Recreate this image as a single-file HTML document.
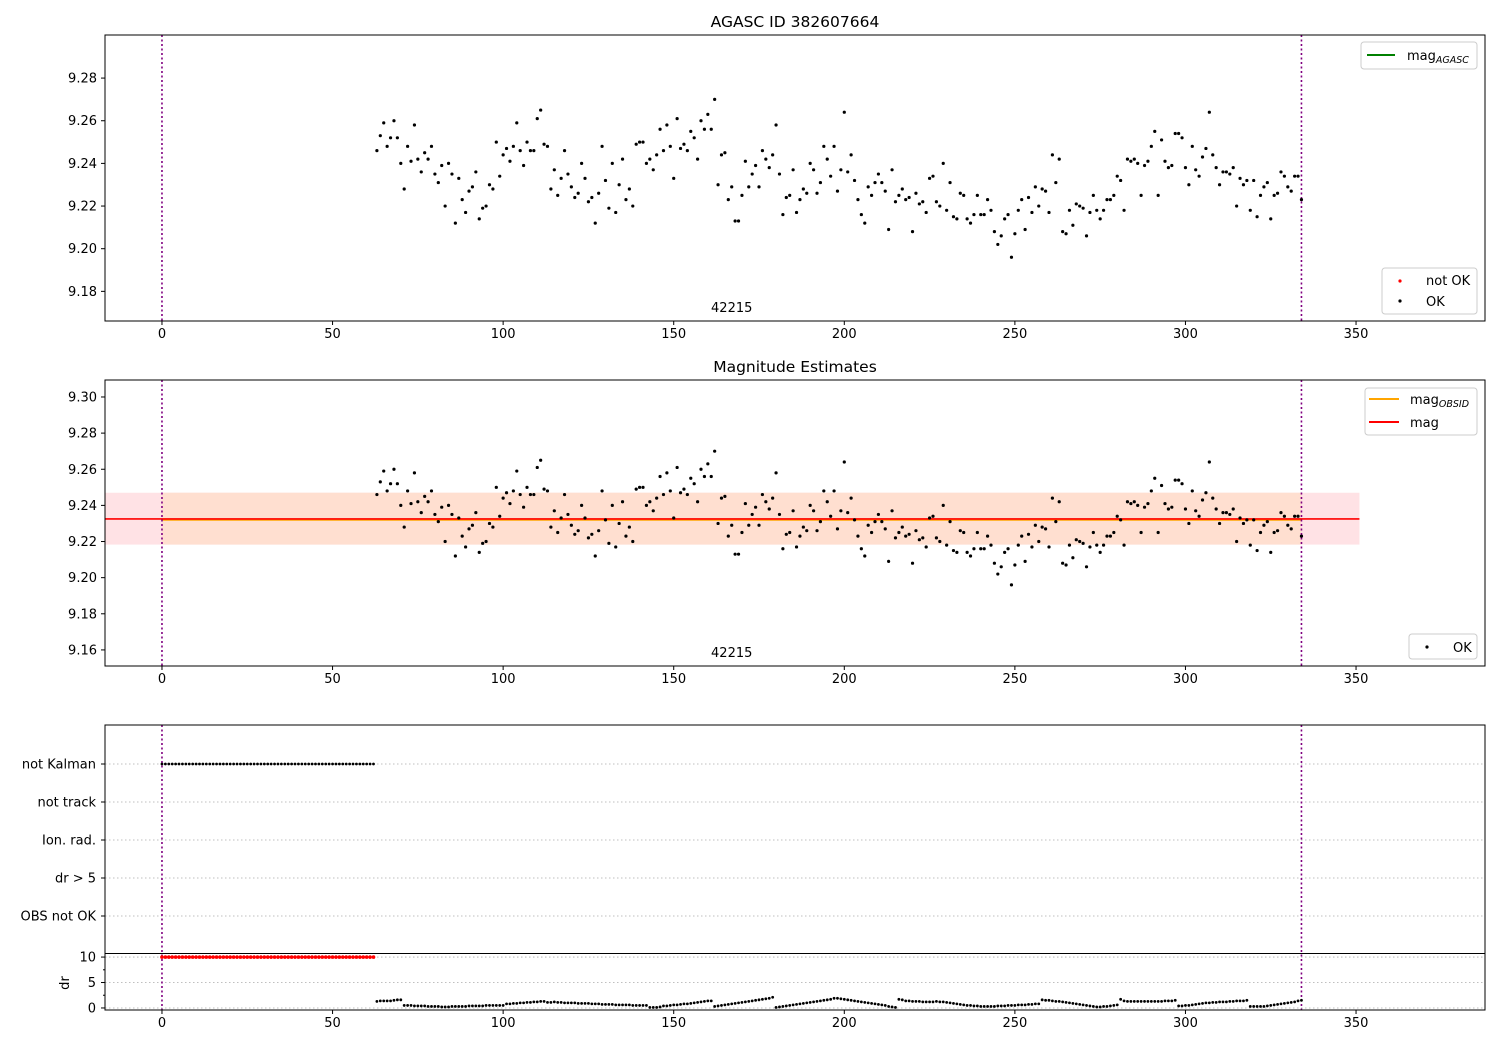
<!DOCTYPE html>
<html><head><meta charset="utf-8">
<style>
html,body{margin:0;padding:0;background:#fff;}
svg{display:block;font-family:"DejaVu Sans","Liberation Sans",sans-serif;}
</style></head>
<body>
<svg id="chart" width="1500" height="1050" viewBox="0 0 1500 1050" xmlns="http://www.w3.org/2000/svg"></svg>
<script>
// ---- data ----
const magStartTime = 63;
const magValues = [
9.246,9.253,9.259,9.248,9.252,9.260,9.252,9.240,9.228,9.248,
9.241,9.258,9.242,9.236,9.245,9.242,9.248,9.235,9.231,9.239,
9.220,9.240,9.235,9.212,9.233,9.223,9.217,9.227,9.229,9.236,
9.214,9.219,9.220,9.230,9.228,9.250,9.234,9.244,9.247,9.241,
9.248,9.259,9.246,9.239,9.250,9.246,9.246,9.261,9.265,9.249,
9.248,9.228,9.237,9.225,9.233,9.246,9.235,9.229,9.224,9.226,
9.240,9.233,9.222,9.224,9.212,9.226,9.248,9.232,9.219,9.240,
9.217,9.230,9.242,9.223,9.228,9.220,9.249,9.250,9.250,9.240,
9.242,9.237,9.244,9.256,9.246,9.258,9.248,9.233,9.261,9.247,
9.249,9.246,9.255,9.252,9.242,9.260,9.256,9.263,9.256,9.270,
9.230,
9.244,9.245,9.223,9.229,9.213,9.213,9.225,9.241,9.229,9.235,
9.239,9.229,9.246,9.242,9.238,9.244,9.258,9.235,9.216,9.224,
9.225,9.237,9.217,9.223,9.228,9.226,9.240,9.237,9.226,9.231,
9.248,9.242,9.234,9.248,9.227,9.237,9.264,9.236,9.244,9.232,
9.223,9.216,9.212,9.229,9.225,9.231,9.235,9.231,9.227,9.209,
9.237,9.222,9.225,9.228,9.223,9.224,9.208,9.226,9.221,9.222,
9.217,9.233,9.234,9.222,9.220,9.240,9.218,9.231,9.215,9.214,
9.226,9.225,9.214,9.212,9.216,9.225,9.216,9.216,9.223,9.218,
9.208,9.202,9.206,9.214,9.216,9.196,9.207,9.218,9.223,9.209,
9.224,9.217,9.229,9.220,9.228,9.227,9.217,9.244,9.231,9.242,
9.208,9.207,9.218,9.211,9.221,9.220,9.219,9.206,9.217,9.225,
9.218,9.214,9.218,9.223,9.223,9.225,9.234,9.232,9.218,9.242,
9.241,9.242,9.240,9.225,9.239,9.241,9.248,9.255,9.225,9.251,
9.241,9.238,9.239,9.254,9.254,9.252,9.238,9.230,9.248,9.237,
9.234,9.243,9.247,9.264,9.244,9.238,9.230,9.236,9.236,9.235,
9.238,9.220,9.233,9.230,9.232,9.218,9.232,9.215,9.225,9.229,
9.231,9.214,9.225,9.226,9.236,9.234,9.229,9.227,9.234,9.234,
9.223
];
const drValues = [
1.3,1.4,1.4,1.4,1.4,1.5,1.6,1.6,
0.5,0.5,0.5,0.4,0.4,0.4,0.4,0.3,0.3,0.3,0.3,0.2,0.2,0.2,0.3,0.3,0.3,0.3,0.3,0.4,0.4,0.4,0.4,0.4,0.5,0.5,0.5,0.5,0.5,0.5,
0.8,0.8,0.9,0.9,1.0,1.0,1.1,1.1,1.2,1.2,1.3,1.3,
1.1,1.1,1.2,1.1,1.1,1.0,1.0,1.0,1.0,0.9,0.9,0.9,0.9,0.8,0.8,0.8,0.7,0.7,0.7,0.7,0.6,0.6,0.6,0.6,0.6,0.5,0.5,0.5,0.5,0.5,
0.1,0.1,0.1,0.2,
0.4,0.4,0.5,0.6,0.6,0.7,0.8,0.8,0.9,1.0,1.1,1.2,1.3,1.4,1.4,
0.3,0.4,0.5,0.6,0.7,0.8,0.9,1.0,1.1,1.2,1.3,1.4,1.5,1.6,1.7,1.8,1.9,2.1,
0.1,0.2,0.3,0.4,0.5,0.6,0.7,0.8,0.9,1.0,1.1,1.2,1.3,1.4,1.5,1.6,1.7,1.9,
1.9,1.8,1.7,1.6,1.5,1.4,1.3,1.2,1.1,1.0,0.9,0.8,0.7,0.6,0.5,0.3,0.2,0.1,
1.7,1.6,1.4,1.4,1.3,1.3,1.3,1.2,1.2,1.2,1.2,1.3,1.2,1.2,1.1,1.0,0.9,0.8,0.7,0.6,0.5,0.5,0.4,0.4,0.3,0.3,
0.3,0.3,0.3,0.4,0.4,0.4,0.5,0.5,0.5,0.6,0.6,0.6,0.7,0.7,0.8,0.8,
1.6,1.5,1.5,1.4,1.3,1.3,1.2,1.1,1.0,0.9,0.8,0.7,0.6,0.5,0.4,0.3,0.2,0.2,0.3,0.3,0.4,0.5,0.6,
1.7,1.4,1.3,1.3,1.3,1.3,1.3,1.3,1.3,1.3,1.3,1.3,1.3,1.4,1.4,1.4,1.5,
0.4,0.4,0.5,0.5,0.6,0.7,0.8,0.9,1.0,1.0,1.1,1.1,1.2,1.2,1.2,1.3,1.3,1.4,1.4,1.4,1.5,
0.3,0.3,0.3,0.3,0.3,0.4,0.5,0.6,0.7,0.8,0.9,1.0,1.1,1.2,1.4,1.5
];
const badStartTime = 0;
const badCount = 63;
const badDr = 10;
const magMean = 9.2325;
const magBandLow = 9.2183;
const magBandHigh = 9.2470;
const bandXMax = 351;
const markerTimes = [0, 334];
const xTicks = [0,50,100,150,200,250,300,350];
const yTicks1 = [9.18,9.20,9.22,9.24,9.26,9.28];
const yTicks2 = [9.16,9.18,9.20,9.22,9.24,9.26,9.28,9.30];
const categories = ["not Kalman","not track","Ion. rad.","dr > 5","OBS not OK"];
const drTicks = [0,5,10];
const obsidLabel = "42215";

// ---- helpers ----
const svg = document.getElementById('chart');
const NS = 'http://www.w3.org/2000/svg';
function mk(tag, attrs, parent){
  const e = document.createElementNS(NS, tag);
  for (const k in attrs) e.setAttribute(k, attrs[k]);
  (parent||svg).appendChild(e);
  return e;
}
const X0 = 105, X1 = 1485;
const xMin = -16.7, xMax = 387.8;
function xs(v){ return X0 + (v - xMin) / (xMax - xMin) * (X1 - X0); }
function yLin(top, bot, vmin, vmax){ return v => bot - (v - vmin) / (vmax - vmin) * (bot - top); }
const y1 = yLin(35, 321, 9.1661, 9.3002);
const y2 = yLin(380, 666, 9.1511, 9.3094);
const ydr = yLin(953, 1010, -0.4, 10.8);
const catY = [764, 802, 840, 878, 916];

function xAxis(yb, g){
  xTicks.forEach(t => {
    mk('line',{x1:xs(t),x2:xs(t),y1:yb,y2:yb+4,stroke:'#000','stroke-width':1},g);
    const tx = mk('text',{x:xs(t),y:yb+17,'font-size':'13','text-anchor':'middle',fill:'#000'},g);
    tx.textContent = t;
  });
}
function yAxis(ticks, yf, g, fmt){
  ticks.forEach(t => {
    mk('line',{x1:X0-4,x2:X0,y1:yf(t),y2:yf(t),stroke:'#000','stroke-width':1},g);
    const tx = mk('text',{x:X0-8,y:yf(t)+4.5,'font-size':'13','text-anchor':'end',fill:'#000'},g);
    tx.textContent = fmt(t);
  });
}
function markers(top, bot, g){
  markerTimes.forEach(t => {
    const l = mk('line',{x1:xs(t),x2:xs(t),y1:top,y2:bot,stroke:'#800080','stroke-width':1.6,'stroke-dasharray':'2,2.5'},g);
    
    
  });
}
function magPoints(yf, g){
  magValues.forEach((v,i) => {
    const c = mk('circle',{cx:xs(magStartTime+i),cy:yf(v),r:1.6,fill:'#000'},g);
    
    
  });
}
function frame(top, bot, g){
  mk('rect',{x:X0,y:top,width:X1-X0,height:bot-top,fill:'none',stroke:'#000','stroke-width':1},g);
}
function legendBox(x,y,w,h,g){
  mk('rect',{x:x,y:y,width:w,height:h,rx:3,fill:'#fff','fill-opacity':0.8,stroke:'#ccc','stroke-width':1},g);
}

// ---- panel 1 ----
const p1 = mk('g',{});  
const t1 = mk('text',{x:795,y:27,'font-size':'15.5','text-anchor':'middle'},p1);
t1.textContent = 'AGASC ID 382607664';
 
markers(35,321,p1);
magPoints(y1,p1);
const o1 = mk('text',{x:xs(167),y:312,'font-size':'13','text-anchor':'middle'},p1);
o1.textContent = obsidLabel;
 
frame(35,321,p1);
xAxis(321,p1);
yAxis(yTicks1,y1,p1,v=>v.toFixed(2));
const lg1 = mk('g',{},p1);  
legendBox(1361,42,116,27,lg1);
mk('line',{x1:1367,x2:1395,y1:55,y2:55,stroke:'#008000','stroke-width':2},lg1);
const lt1 = mk('text',{x:1407,y:60,'font-size':'13'},lg1);
lt1.innerHTML = 'mag<tspan font-size="9.5" font-style="italic" dy="3">AGASC</tspan>';
const lg1b = mk('g',{},p1);  
legendBox(1382,268,95,46,lg1b);
mk('circle',{cx:1400,cy:281,r:1.6,fill:'#f00'},lg1b);
mk('circle',{cx:1400,cy:301,r:1.6,fill:'#000'},lg1b);
mk('text',{x:1426,y:285,'font-size':'13'},lg1b).textContent = 'not OK';
mk('text',{x:1426,y:306,'font-size':'13'},lg1b).textContent = 'OK';

// ---- panel 2 ----
const p2 = mk('g',{});  
const t2 = mk('text',{x:795,y:372,'font-size':'15.5','text-anchor':'middle'},p2);
t2.textContent = 'Magnitude Estimates';
 
const band1 = mk('rect',{x:X0,y:y2(magBandHigh),width:xs(bandXMax)-X0,height:y2(magBandLow)-y2(magBandHigh),fill:'#ffe2e5'},p2);
 
const band2 = mk('rect',{x:xs(markerTimes[0]),y:y2(magBandHigh),width:xs(markerTimes[1])-xs(markerTimes[0]),height:y2(magBandLow)-y2(magBandHigh),fill:'#ffdfd0'},p2);
 
const ol = mk('line',{x1:xs(markerTimes[0]),x2:xs(markerTimes[1]),y1:y2(magMean)+0.8,y2:y2(magMean)+0.8,stroke:'#ffa500','stroke-width':2},p2);
 
const rl = mk('line',{x1:X0,x2:xs(bandXMax),y1:y2(magMean),y2:y2(magMean),stroke:'#f00','stroke-width':1.6},p2);
 
markers(380,666,p2);
magPoints(y2,p2);
const o2 = mk('text',{x:xs(167),y:657,'font-size':'13','text-anchor':'middle'},p2);
o2.textContent = obsidLabel;
 
frame(380,666,p2);
xAxis(666,p2);
yAxis(yTicks2,y2,p2,v=>v.toFixed(2));
const lg2 = mk('g',{},p2);  
legendBox(1365,388,112,47,lg2);
mk('line',{x1:1369,x2:1399,y1:399,y2:399,stroke:'#ffa500','stroke-width':2},lg2);
mk('line',{x1:1369,x2:1399,y1:422,y2:422,stroke:'#f00','stroke-width':2},lg2);
mk('text',{x:1410,y:404,'font-size':'13'},lg2).innerHTML = 'mag<tspan font-size="9.5" font-style="italic" dy="3">OBSID</tspan>';
mk('text',{x:1410,y:427,'font-size':'13'},lg2).textContent = 'mag';
const lg2b = mk('g',{},p2);  
legendBox(1409,634,68,25,lg2b);
mk('circle',{cx:1427,cy:647,r:1.6,fill:'#000'},lg2b);
mk('text',{x:1453,y:652,'font-size':'13'},lg2b).textContent = 'OK';

// ---- panel 3 ----
const p3 = mk('g',{});  
categories.forEach((c,i) => {
  mk('line',{x1:X0,x2:X1,y1:catY[i],y2:catY[i],stroke:'#aaa','stroke-width':0.8,'stroke-dasharray':'1.5,2.5'},p3);
  mk('line',{x1:X0-4,x2:X0,y1:catY[i],y2:catY[i],stroke:'#000'},p3);
  const t = mk('text',{x:X0-9,y:catY[i]+4.5,'font-size':'13','text-anchor':'end'},p3);
  t.textContent = c;
   
});
drTicks.forEach(t => {
  mk('line',{x1:X0,x2:X1,y1:ydr(t),y2:ydr(t),stroke:'#aaa','stroke-width':0.8,'stroke-dasharray':'1.5,2.5'},p3);
  mk('line',{x1:X0-4,x2:X0,y1:ydr(t),y2:ydr(t),stroke:'#000'},p3);
  mk('text',{x:X0-9,y:ydr(t)+4.5,'font-size':'13','text-anchor':'end'},p3).textContent = t;
});
[2.5,7.5].forEach(t => mk('line',{x1:X0-2,x2:X0,y1:ydr(t),y2:ydr(t),stroke:'#000'},p3));
const drl = mk('text',{x:69,y:983,'font-size':'13','text-anchor':'middle',transform:'rotate(-90 69 983)'},p3);
drl.textContent = 'dr';
 
markers(725,1010,p3);
for (let i=0;i<badCount;i++){
  const a = mk('circle',{cx:xs(badStartTime+i),cy:catY[0],r:1.4,fill:'#000'},p3);
   
  const b = mk('circle',{cx:xs(badStartTime+i),cy:ydr(badDr),r:1.8,fill:'#f00'},p3);
   
}
drValues.forEach((v,i) => {
  const c = mk('circle',{cx:xs(magStartTime+i),cy:ydr(v),r:1.4,fill:'#000'},p3);
  
  
});
mk('line',{x1:X0,x2:X1,y1:953.5,y2:953.5,stroke:'#000','stroke-width':1},p3);
frame(725,1010,p3);
xAxis(1010,p3);
</script>
</body></html>
